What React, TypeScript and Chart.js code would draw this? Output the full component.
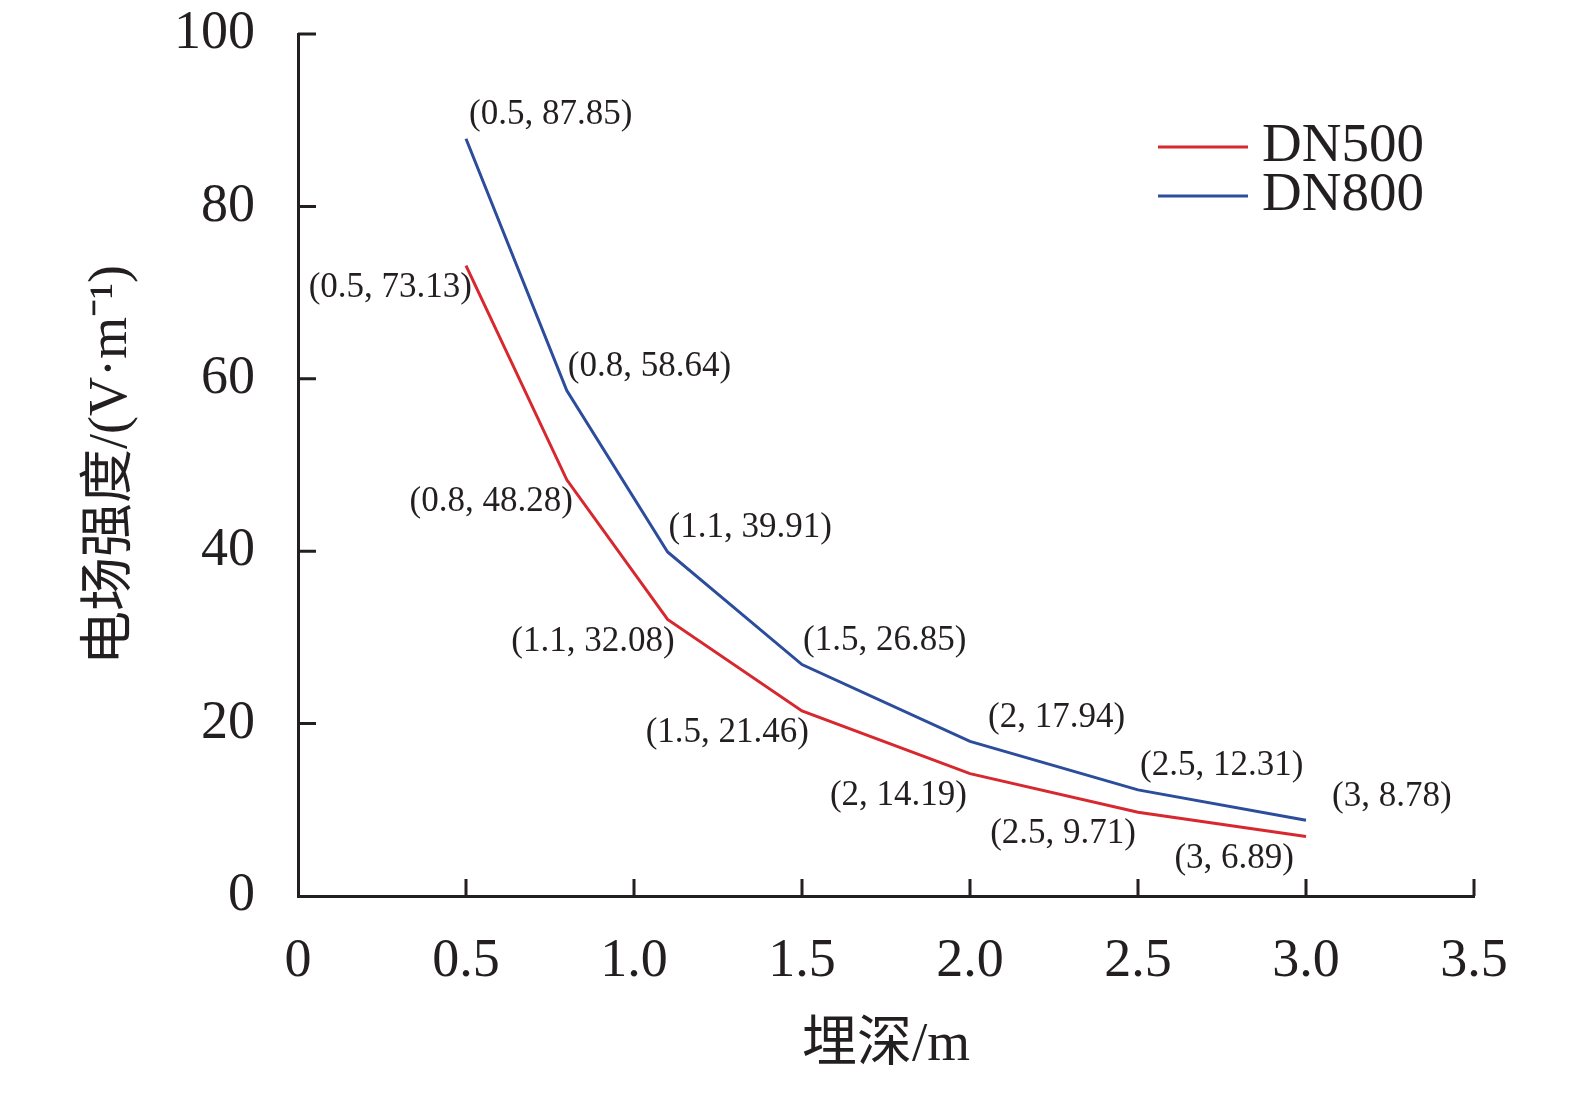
import React, { useEffect, useRef } from "react";
import { Chart, registerables } from "chart.js";

Chart.register(...registerables);

// burial depth (m)
const depths = [0.5, 0.8, 1.1, 1.5, 2, 2.5, 3];
// electric field strength (V/m)
const dn500 = [73.13, 48.28, 32.08, 21.46, 14.19, 9.71, 6.89];
const dn800 = [87.85, 58.64, 39.91, 26.85, 17.94, 12.31, 8.78];
const seriesNames = ["DN500", "DN800"];

const xTitle = "埋深/m";
const yTitle = "电场强度/(V·m⁻¹)";

const RED = "#d7282f";
const BLUE = "#2c4c9c";
const INK = "#231f20";
const SERIF = '"Liberation Serif", "Times New Roman", "Noto Sans CJK SC", serif';

// horizontal nudges for the point labels (px)
const blueNudge = [3, 1, 1, 1, 18, 2, 26];
const redNudge = [6, 6, 7, 7, -3, -2, -12];

const fmt = (x: number, y: number) => `(${x}, ${y})`;

// keep the plot area exactly where the layout padding says
const noOverflow = (s: any) => {
  s.paddingTop = 0;
  s.paddingBottom = 0;
  s.paddingLeft = 0;
  s.paddingRight = 0;
};

const extras = {
  id: "extras",
  afterDraw(chart: any) {
    const { ctx, chartArea, scales } = chart;
    const xs = scales.x;
    const ys = scales.y;
    ctx.save();
    // inward tick marks
    ctx.strokeStyle = INK;
    ctx.lineWidth = 3;
    ctx.beginPath();
    xs.ticks.forEach((t: any) => {
      if (t.value === 0) return;
      const px = xs.getPixelForValue(t.value);
      ctx.moveTo(px, chartArea.bottom);
      ctx.lineTo(px, chartArea.bottom - 17);
    });
    ys.ticks.forEach((t: any) => {
      if (t.value === 0) return;
      const py = ys.getPixelForValue(t.value);
      ctx.moveTo(chartArea.left, py);
      ctx.lineTo(chartArea.left + 18, py);
    });
    ctx.stroke();

    // point labels
    ctx.font = `35px ${SERIF}`;
    ctx.fillStyle = INK;
    ctx.textBaseline = "middle";
    depths.forEach((d, i) => {
      const px = xs.getPixelForValue(d);
      ctx.textAlign = "left";
      ctx.fillText(fmt(d, dn800[i]), px + blueNudge[i], ys.getPixelForValue(dn800[i]) - 24);
      ctx.textAlign = "right";
      ctx.fillText(fmt(d, dn500[i]), px + redNudge[i], ys.getPixelForValue(dn500[i]) + 22);
    });

    // legend
    const colors = [RED, BLUE];
    const lx = chartArea.right - 316;
    seriesNames.forEach((name, i) => {
      const ly = chartArea.top + 113 + i * 49;
      ctx.strokeStyle = colors[i];
      ctx.lineWidth = 3;
      ctx.beginPath();
      ctx.moveTo(lx, ly);
      ctx.lineTo(lx + 90, ly);
      ctx.stroke();
      ctx.font = `55px ${SERIF}`;
      ctx.fillStyle = INK;
      ctx.textAlign = "left";
      ctx.fillText(name, lx + 104, ly);
    });
    ctx.restore();
  },
};

export default function App() {
  const canvasRef = useRef<HTMLCanvasElement | null>(null);

  useEffect(() => {
    if (!canvasRef.current) return;
    const chart = new Chart(canvasRef.current, {
      type: "line",
      data: {
        datasets: [
          {
            label: seriesNames[0],
            data: depths.map((d, i) => ({ x: d, y: dn500[i] })),
            borderColor: RED,
            borderWidth: 3,
            pointRadius: 0,
            tension: 0,
          },
          {
            label: seriesNames[1],
            data: depths.map((d, i) => ({ x: d, y: dn800[i] })),
            borderColor: BLUE,
            borderWidth: 3,
            pointRadius: 0,
            tension: 0,
          },
        ],
      },
      options: {
        responsive: false,
        animation: false,
        devicePixelRatio: 1,
        layout: { padding: { left: 0, top: 34, right: 101, bottom: 0 } },
        plugins: { legend: { display: false }, tooltip: { enabled: false } },
        scales: {
          x: {
            type: "linear",
            min: 0,
            max: 3.5,
            afterFit: (s: any) => {
              s.height = 197;
              noOverflow(s);
            },
            ticks: {
              stepSize: 0.5,
              color: INK,
              padding: 33,
              font: { family: SERIF, size: 54 },
              callback: (v: any) => (v === 0 ? "0" : Number(v).toFixed(1)),
            },
            grid: { display: false, drawTicks: false },
            border: { display: true, color: INK, width: 3 },
            title: {
              display: true,
              text: xTitle,
              color: INK,
              font: { family: SERIF, size: 55 },
              padding: { top: 0, bottom: 14 },
            },
          },
          y: {
            min: 0,
            max: 100,
            afterFit: (s: any) => {
              s.width = 298;
              noOverflow(s);
            },
            ticks: {
              stepSize: 20,
              color: INK,
              padding: 43,
              font: { family: SERIF, size: 54 },
            },
            grid: { display: false, drawTicks: false },
            border: { display: true, color: INK, width: 3 },
            title: {
              display: true,
              text: yTitle,
              color: INK,
              font: { family: SERIF, size: 54 },
              padding: { top: 79, bottom: 0 },
            },
          },
        },
      },
      plugins: [extras],
    });
    return () => chart.destroy();
  }, []);

  return (
    <div style={{ position: "absolute", left: 0, top: 0, width: 1575, height: 1093, background: "#fff" }}>
      <canvas ref={canvasRef} width={1575} height={1093} />
    </div>
  );
}
